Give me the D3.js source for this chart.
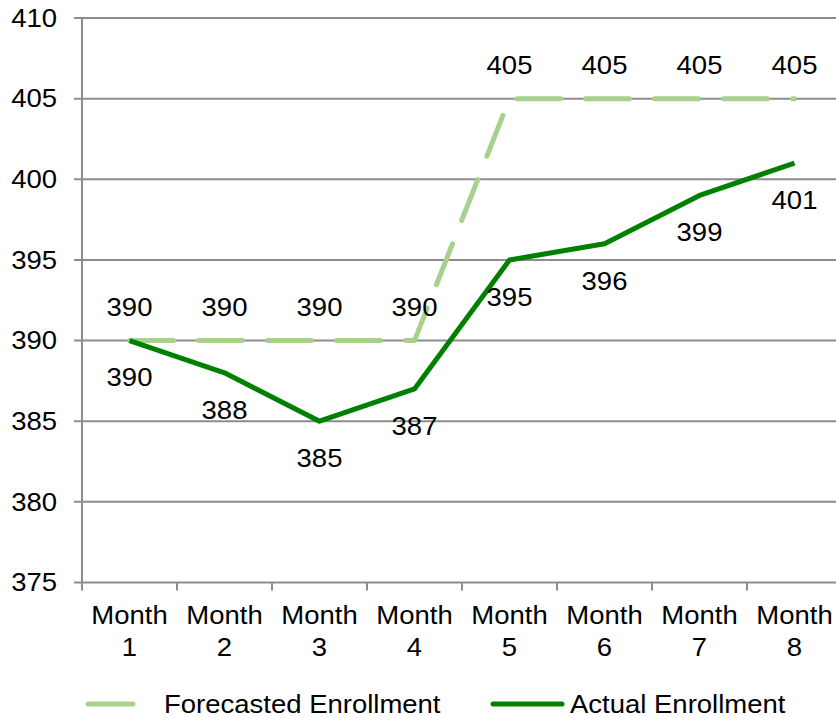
<!DOCTYPE html>
<html>
<head>
<meta charset="utf-8">
<script src="https://cdn.jsdelivr.net/npm/d3@7"></script>
<style>
  body { margin: 0; background: #fff; }
  svg { display: block; font-family: "Liberation Sans", Arial, sans-serif; }
  text { font-size: 25px; fill: #000; }
</style>
</head>
<body>
<svg id="chart" width="836" height="717"></svg>
<script>
const months = ["Month 1", "Month 2", "Month 3", "Month 4", "Month 5", "Month 6", "Month 7", "Month 8"];
const forecasted = [390, 390, 390, 390, 405, 405, 405, 405];
const actual = [390, 388, 385, 387, 395, 396, 399, 401];
const yTicks = [375, 380, 385, 390, 395, 400, 405, 410];
const seriesNames = ["Forecasted Enrollment", "Actual Enrollment"];

const svg = d3.select("#chart");

const plotLeft = 82, plotTop = 18, plotBottom = 582.5, bandW = 95;
const sx = 1.1; // el texto del original es algo mas ancho

const x = d3.scaleBand()
    .domain(months)
    .range([plotLeft, plotLeft + bandW * months.length]);

const y = d3.scaleLinear()
    .domain([375, 410])
    .range([plotBottom, plotTop]);

const cx = d => x(d) + x.bandwidth() / 2;
const place = (px, py) => `translate(${px},${py}) scale(${sx},1)`;

// lineas de la cuadricula
svg.append("g")
    .selectAll("line")
    .data(yTicks)
    .enter()
    .append("line")
    .attr("x1", plotLeft - 8)
    .attr("x2", 836)
    .attr("y1", d => y(d))
    .attr("y2", d => y(d))
    .attr("stroke", "#8c8c8c")
    .attr("stroke-width", 2);

// eje vertical
svg.append("line")
    .attr("x1", plotLeft).attr("x2", plotLeft)
    .attr("y1", plotTop).attr("y2", plotBottom)
    .attr("stroke", "#8c8c8c")
    .attr("stroke-width", 2);

// etiquetas del eje y
svg.append("g")
    .selectAll("text")
    .data(yTicks)
    .enter()
    .append("text")
    .attr("transform", d => place(57, y(d)))
    .attr("dy", "0.35em")
    .attr("text-anchor", "end")
    .text(d => d);

// marcas del eje x entre categorias
svg.append("g")
    .selectAll("line")
    .data(months)
    .enter()
    .append("line")
    .attr("x1", d => x(d))
    .attr("x2", d => x(d))
    .attr("y1", plotBottom)
    .attr("y2", plotBottom + 8)
    .attr("stroke", "#8c8c8c")
    .attr("stroke-width", 2);

// etiquetas del eje x en dos lineas
const xl = svg.append("g")
    .selectAll("text")
    .data(months)
    .enter()
    .append("text")
    .attr("transform", d => place(cx(d), 0))
    .attr("text-anchor", "middle");

xl.append("tspan")
    .attr("x", 0)
    .attr("y", 624)
    .text(d => d.split(" ")[0]);

xl.append("tspan")
    .attr("x", 0)
    .attr("y", 656)
    .text(d => d.split(" ")[1]);

const line = d3.line()
    .x(d => cx(d.m))
    .y(d => y(d.v));

const fData = months.map((m, i) => ({ m: m, v: forecasted[i] }));
const aData = months.map((m, i) => ({ m: m, v: actual[i] }));

svg.append("path")
    .datum(fData)
    .attr("d", line)
    .attr("fill", "none")
    .attr("stroke", "#a9d18e")
    .attr("stroke-width", 5)
    .attr("stroke-linecap", "round")
    .attr("stroke-linejoin", "round")
    .attr("stroke-dasharray", "44 25");

svg.append("path")
    .datum(aData)
    .attr("d", line)
    .attr("fill", "none")
    .attr("stroke", "#008000")
    .attr("stroke-width", 5)
    .attr("stroke-linejoin", "round");

// etiquetas de datos
svg.append("g")
    .selectAll("text")
    .data(fData)
    .enter()
    .append("text")
    .attr("transform", d => place(cx(d.m), y(d.v) - 33))
    .attr("dy", "0.35em")
    .attr("text-anchor", "middle")
    .text(d => d.v);

svg.append("g")
    .selectAll("text")
    .data(aData)
    .enter()
    .append("text")
    .attr("transform", d => place(cx(d.m), y(d.v) + 37))
    .attr("dy", "0.35em")
    .attr("text-anchor", "middle")
    .text(d => d.v);

// leyenda
const lg = svg.append("g");
lg.append("line")
    .attr("x1", 88).attr("x2", 133)
    .attr("y1", 704).attr("y2", 704)
    .attr("stroke", "#a9d18e")
    .attr("stroke-width", 5)
    .attr("stroke-linecap", "round");
lg.append("text")
    .attr("transform", place(164, 704))
    .attr("dy", "0.35em")
    .text(seriesNames[0]);
lg.append("line")
    .attr("x1", 493).attr("x2", 562)
    .attr("y1", 704).attr("y2", 704)
    .attr("stroke", "#008000")
    .attr("stroke-width", 5)
    .attr("stroke-linecap", "round");
lg.append("text")
    .attr("transform", place(570, 704))
    .attr("dy", "0.35em")
    .text(seriesNames[1]);
</script>
</body>
</html>
